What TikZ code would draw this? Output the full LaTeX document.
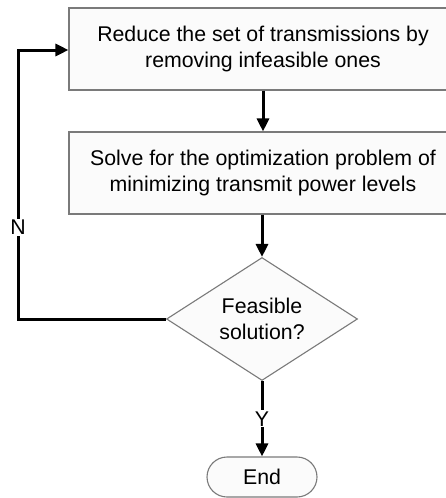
\documentclass[tikz,border=0pt]{standalone}
\usepackage{fontspec}
\setmainfont{Liberation Sans}
\usetikzlibrary{arrows.meta,positioning,shapes.geometric}
\definecolor{Edge}{HTML}{7A7A7A}
\definecolor{Paper}{HTML}{FBFBFB}

\begin{document}
\begin{tikzpicture}[x=1pt,y=-1pt,
  stepbox/.style={rectangle,draw=Edge,fill=Paper,line width=1.1pt,minimum width=388pt,minimum height=82pt,align=center,font=\fontsize{21.3}{25.5}\selectfont},
  test/.style={diamond,draw=Edge,fill=Paper,line width=1.1pt,minimum width=191pt,minimum height=123pt,aspect=1.55,inner sep=0pt,align=center,font=\fontsize{21.3}{25.5}\selectfont},
  stop/.style={rectangle,rounded corners=20pt,draw=Edge,fill=Paper,line width=1.1pt,minimum width=110pt,minimum height=40pt,font=\fontsize{21.3}{25.5}\selectfont},
  tag/.style={fill=white,inner sep=1pt,font=\fontsize{21.3}{25.5}\selectfont},
  flow/.style={draw=black,line width=3pt,-{Triangle[length=13pt,width=12pt]}}
]
\useasboundingbox (0,0) rectangle (446,498);
\node[stepbox] (reduce) at (263,49) {Reduce the set of transmissions by\\removing infeasible ones};
\node[stepbox] (solve) at (263,173) {Solve for the optimization problem of\\minimizing transmit power levels};
\node[test] (feas) at (262,319) {Feasible\\solution?};
\node[stop] (end) at (262,477) {End};
\coordinate (low) at (18,319);
\coordinate (high) at (18,50);
\draw[flow] (reduce) -- (solve);
\draw[flow] (solve.south -| feas.north) -- (feas);
\draw[flow] (feas) -- node[tag] {Y} (end);
\draw[flow] (feas.west) -- (low) -- node[tag,pos=0.34] {N} (high) -- (reduce.west |- high);
\end{tikzpicture}
\end{document}
